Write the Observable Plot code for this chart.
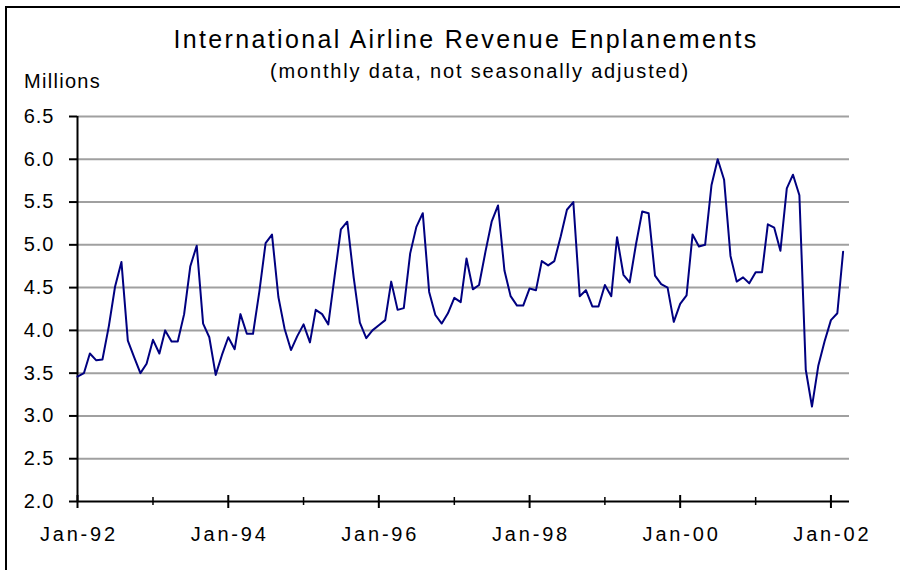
<!DOCTYPE html>
<html><head><meta charset="utf-8">
<script src="https://cdn.jsdelivr.net/npm/d3@7"></script>
<script src="https://cdn.jsdelivr.net/npm/@observablehq/plot@0.6"></script>
<style>
body{margin:0;background:#fff;}
#wrap{position:relative;width:900px;height:570px;overflow:hidden;background:#fff;font-family:"Liberation Sans",Arial,sans-serif;color:#000;}
#frame{position:absolute;left:5px;top:6px;width:1000px;height:1000px;border-left:2px solid #000;border-top:2px solid #000;}
.t{position:absolute;white-space:nowrap;transform:translateX(-50%);}
#chart{position:absolute;left:0;top:0;}
#title{left:466px;top:27px;font-size:25px;line-height:25px;letter-spacing:2.35px;}
#subtitle{left:480px;top:61px;font-size:20px;line-height:20px;letter-spacing:1.85px;}
#units{left:24px;top:71px;font-size:20px;line-height:20px;letter-spacing:1.3px;transform:none;}
</style></head><body>
<div id="wrap">
<div id="frame"></div>
<div id="chart"></div>
<div class="t" id="title">International Airline Revenue Enplanements</div>
<div class="t" id="subtitle">(monthly data, not seasonally adjusted)</div>
<div class="t" id="units">Millions</div>
</div>
<script>
// Monthly values (millions), Jan..Dec of each year
const years = [1992, 1993, 1994, 1995, 1996, 1997, 1998, 1999, 2000, 2001, 2002];
const y1992 = [3.46, 3.50, 3.73, 3.65, 3.66, 4.05, 4.51, 4.80, 3.88, 3.69, 3.50, 3.61];
const y1993 = [3.89, 3.73, 4.00, 3.87, 3.87, 4.19, 4.75, 4.99, 4.08, 3.92, 3.48, 3.71];
const y1994 = [3.92, 3.78, 4.19, 3.96, 3.96, 4.46, 5.02, 5.12, 4.39, 4.02, 3.77, 3.93];
const y1995 = [4.07, 3.86, 4.24, 4.19, 4.07, 4.64, 5.18, 5.27, 4.62, 4.09, 3.91, 4.00];
const y1996 = [4.06, 4.12, 4.57, 4.24, 4.26, 4.90, 5.21, 5.37, 4.45, 4.18, 4.08, 4.20];
const y1997 = [4.38, 4.33, 4.84, 4.48, 4.53, 4.92, 5.27, 5.46, 4.70, 4.40, 4.29, 4.29];
const y1998 = [4.49, 4.47, 4.81, 4.76, 4.81, 5.10, 5.41, 5.50, 4.40, 4.47, 4.28, 4.28];
const y1999 = [4.53, 4.40, 5.09, 4.65, 4.56, 5.01, 5.39, 5.37, 4.64, 4.54, 4.50, 4.10];
const y2000 = [4.31, 4.41, 5.12, 4.98, 5.00, 5.70, 6.00, 5.76, 4.87, 4.57, 4.62, 4.55];
const y2001 = [4.68, 4.68, 5.24, 5.20, 4.93, 5.66, 5.82, 5.58, 3.54, 3.11, 3.59, 3.87];
const y2002 = [4.12, 4.20, 4.92];

const yTicks = [2.0, 2.5, 3.0, 3.5, 4.0, 4.5, 5.0, 5.5, 6.0, 6.5];
const xTickLabels = ["Jan-92", "Jan-94", "Jan-96", "Jan-98", "Jan-00", "Jan-02"];
const xMinorLabels = ["Jan-93", "Jan-95", "Jan-97", "Jan-99", "Jan-01"];
const xDomainLabels = ["Jan-92", "Apr-02"];

const series = [y1992, y1993, y1994, y1995, y1996, y1997, y1998, y1999, y2000, y2001, y2002];
const data = years.flatMap((yr, i) => series[i].map((v, m) => ({date: new Date(Date.UTC(yr, m, 1)), value: v})));

const parse = d3.utcParse("%b-%y");
const majorDates = xTickLabels.map(parse);
const minorDates = xMinorLabels.map(parse);
const xDomain = xDomainLabels.map(parse);
const xStart = xDomain[0];
const fmtY = d3.format(".1f");

const chart = Plot.plot({
  width: 900,
  height: 570,
  marginLeft: 77,
  marginRight: 51,
  marginTop: 116,
  marginBottom: 69,
  style: {fontFamily: "'Liberation Sans', Arial, sans-serif", fontSize: "20px", color: "#000", background: "transparent", overflow: "visible"},
  x: {type: "utc", domain: xDomain, axis: null},
  y: {domain: [2, 6.5], axis: null},
  marks: [
    Plot.ruleY(yTicks.filter(d => d > 2), {stroke: "#a0a0a0", strokeWidth: 2}),
    Plot.ruleX([xStart], {x: d => d, y1: () => 2, y2: () => 6.5, stroke: "#000", strokeWidth: 2}),
    Plot.ruleY([2], {stroke: "#000", strokeWidth: 2}),
    Plot.ruleY(yTicks, {y: d => d, x1: () => xStart, x2: () => xStart, insetLeft: -8, stroke: "#000", strokeWidth: 2}),
    Plot.text(yTicks, {x: () => xStart, y: d => d, text: d => fmtY(d), textAnchor: "end", dx: -23, fill: "#000"}),
    Plot.ruleX(majorDates, {x: d => d, y1: () => 2, y2: () => 2, insetTop: -6, insetBottom: -7, stroke: "#000", strokeWidth: 2}),
    Plot.ruleX(minorDates, {x: d => d, y1: () => 2, y2: () => 2, insetTop: -4, insetBottom: -4, stroke: "#000", strokeWidth: 1.5}),
    Plot.text(majorDates, {x: d => d, y: () => 2, text: (d, i) => xTickLabels[i], lineAnchor: "top", dy: 25, dx: 1.4, fill: "#000"}),
    Plot.line(data, {x: "date", y: "value", stroke: "#000080", strokeWidth: 2})
  ]
});
document.getElementById("chart").appendChild(chart);
// letter spacing to match the reference's wide text
d3.select(chart).selectAll("text").each(function() {
  const s = this.textContent;
  this.style.letterSpacing = s.startsWith("Jan") ? "2.8px" : "1px";
});
</script>
</body></html>
